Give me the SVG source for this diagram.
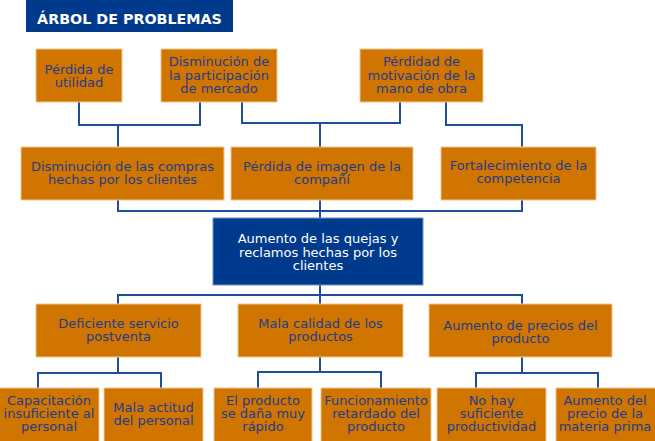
<svg xmlns="http://www.w3.org/2000/svg" width="655" height="441" viewBox="0 0 655 441">
<style>
.box{fill:#D07500;stroke:#F2C58E;stroke-width:1}
.core{fill:#003A8C;stroke:#6F8FC8;stroke-width:1}
.t{font-family:"DejaVu Sans",sans-serif;font-size:13px;fill:#1E3C8C;text-anchor:middle}
.tw{font-family:"DejaVu Sans",sans-serif;font-size:13px;fill:#FFFFFF;text-anchor:middle}
.c{fill:none;stroke:#1F4E9A;stroke-width:2}
</style>
<rect width="655" height="441" fill="#FFFFFF"/>
<g id="title">
<rect x="26" y="0" width="207" height="32" fill="#003A8C"/>
<text x="129.5" y="24" font-family="DejaVu Sans, sans-serif" font-weight="bold" font-size="14.3" fill="#FFFFFF" text-anchor="middle">ÁRBOL DE PROBLEMAS</text>
</g>
<g id="connectors">
<path class="c" d="M79,102 V125 H200 V102 M118,125 V147"/>
<path class="c" d="M242,102 V123 H400 V102 M320,123 V147"/>
<path class="c" d="M446,102 V125 H522 V147"/>
<path class="c" d="M118,200 V211 H522 V200 M320,200 V218"/>
<path class="c" d="M320,285 V304 M118,304 V295 H522 V304"/>
<path class="c" d="M118,357 V373 M38,388 V373 H161 V388"/>
<path class="c" d="M320,357 V372 M258,388 V372 H381 V388"/>
<path class="c" d="M522,357 V373 M476,388 V373 H598 V388"/>
</g>
<g id="n1">
<rect class="box" x="36" y="49" width="86" height="53"/>
<text class="t" x="79" y="74">Pérdida de<tspan x="79" dy="13">utilidad</tspan></text>
</g>
<g id="n2">
<rect class="box" x="161" y="49" width="116" height="53"/>
<text class="t" x="219" y="66">Disminución de<tspan x="219" dy="13.5">la participación</tspan><tspan x="219" dy="13.5">de mercado</tspan></text>
</g>
<g id="n3">
<rect class="box" x="360" y="49" width="123" height="53"/>
<text class="t" x="421.5" y="66">Pérdidad de<tspan x="421.5" dy="13.5">motivación de la</tspan><tspan x="421.5" dy="13.5">mano de obra</tspan></text>
</g>
<g id="n4">
<rect class="box" x="21" y="147" width="203" height="53"/>
<text class="t" x="122.5" y="171">Disminución de las compras<tspan x="122.5" dy="13">hechas por los clientes</tspan></text>
</g>
<g id="n5">
<rect class="box" x="231" y="147" width="182" height="53"/>
<text class="t" x="322" y="171">Pérdida de imagen de la<tspan x="322" dy="13">compañí</tspan></text>
</g>
<g id="n6">
<rect class="box" x="441" y="147" width="155" height="53"/>
<text class="t" x="518.5" y="170">Fortalecimiento de la<tspan x="518.5" dy="13">competencia</tspan></text>
</g>
<g id="core">
<rect class="core" x="213" y="218" width="210" height="67"/>
<text class="tw" x="318" y="243">Aumento de las quejas y<tspan x="318" dy="13.5">reclamos hechas por los</tspan><tspan x="318" dy="13.5">clientes</tspan></text>
</g>
<g id="n7">
<rect class="box" x="36" y="304" width="165" height="53"/>
<text class="t" x="118.5" y="328">Deficiente servicio<tspan x="118.5" dy="13">postventa</tspan></text>
</g>
<g id="n8">
<rect class="box" x="238" y="304" width="165" height="53"/>
<text class="t" x="320.5" y="328">Mala calidad de los<tspan x="320.5" dy="13">productos</tspan></text>
</g>
<g id="n9">
<rect class="box" x="429" y="304" width="183" height="53"/>
<text class="t" x="520.5" y="330">Aumento de precios del<tspan x="520.5" dy="13">producto</tspan></text>
</g>
<g id="n10">
<rect class="box" x="-1" y="388" width="100" height="60"/>
<text class="t" x="49" y="405">Capacitación<tspan x="49" dy="13">insuficiente al</tspan><tspan x="49" dy="13">personal</tspan></text>
</g>
<g id="n11">
<rect class="box" x="104" y="388" width="99" height="60"/>
<text class="t" x="153.5" y="412">Mala actitud<tspan x="153.5" dy="13">del personal</tspan></text>
</g>
<g id="n12">
<rect class="box" x="214" y="388" width="98" height="60"/>
<text class="t" x="263" y="405">El producto<tspan x="263" dy="13">se daña muy</tspan><tspan x="263" dy="13">rápido</tspan></text>
</g>
<g id="n13">
<rect class="box" x="321" y="388" width="110" height="60"/>
<text class="t" x="376" y="405">Funcionamiento<tspan x="376" dy="13">retardado del</tspan><tspan x="376" dy="13">producto</tspan></text>
</g>
<g id="n14">
<rect class="box" x="437" y="388" width="109" height="60"/>
<text class="t" x="491.5" y="405">No hay<tspan x="491.5" dy="13">suficiente</tspan><tspan x="491.5" dy="13">productividad</tspan></text>
</g>
<g id="n15">
<rect class="box" x="556" y="388" width="100" height="60"/>
<text class="t" x="605" y="405">Aumento del<tspan x="605" dy="13">precio de la</tspan><tspan x="605" dy="13">materia prima</tspan></text>
</g>
</svg>
